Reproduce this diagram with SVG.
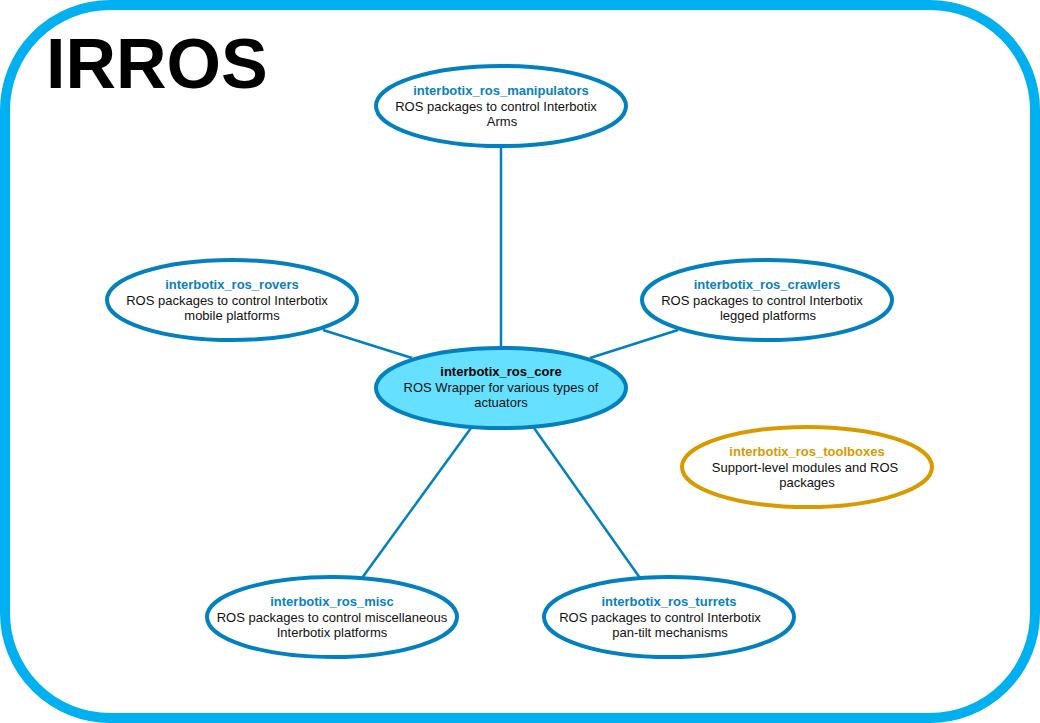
<svg xmlns="http://www.w3.org/2000/svg" width="1040" height="723" viewBox="0 0 1040 723">
<style>
text{font-family:"Liberation Sans",Arial,sans-serif;font-size:13px;text-anchor:middle;fill:#111}
.t{font-weight:bold;fill:#0a80c2}
.n{fill:#fff;stroke:#0380bf;stroke-width:4}
.c{stroke:#0380bf;stroke-width:2.5;fill:none}
</style>
<rect x="5" y="5" width="1030" height="713" rx="105" ry="105" fill="#fff" stroke="#00b0f0" stroke-width="10"/>
<text x="46" y="88" style="font-size:70px;font-weight:bold;text-anchor:start;fill:#000">IRROS</text>
<g id="connectors">
<line class="c" x1="501" y1="147" x2="501" y2="348"/>
<line class="c" x1="323" y1="330" x2="412" y2="358"/>
<line class="c" x1="678" y1="330" x2="590" y2="358"/>
<line class="c" x1="362" y1="578" x2="471" y2="428"/>
<line class="c" x1="640" y1="578" x2="534" y2="428"/>
</g>
<g id="manipulators">
<ellipse class="n" cx="501" cy="106" rx="125" ry="40"/>
<text class="t" x="501" y="95">interbotix_ros_manipulators</text>
<text x="496" y="111">ROS packages to control Interbotix</text>
<text x="502" y="126">Arms</text>
</g>
<g id="rovers">
<ellipse class="n" cx="232" cy="300" rx="125" ry="40"/>
<text class="t" x="232" y="289">interbotix_ros_rovers</text>
<text x="227" y="305">ROS packages to control Interbotix</text>
<text x="232" y="320">mobile platforms</text>
</g>
<g id="crawlers">
<ellipse class="n" cx="767" cy="300" rx="125" ry="40"/>
<text class="t" x="767" y="289">interbotix_ros_crawlers</text>
<text x="762" y="305">ROS packages to control Interbotix</text>
<text x="768" y="320">legged platforms</text>
</g>
<g id="core">
<ellipse cx="501" cy="388" rx="125" ry="40" fill="#66e0ff" stroke="#0380bf" stroke-width="4"/>
<text x="501" y="376" style="font-weight:bold;fill:#000">interbotix_ros_core</text>
<text x="501" y="392">ROS Wrapper for various types of</text>
<text x="501" y="407">actuators</text>
</g>
<g id="toolboxes">
<ellipse cx="807" cy="467" rx="125" ry="40" fill="#fff" stroke="#d99a00" stroke-width="4"/>
<text x="807" y="456" style="font-weight:bold;fill:#d99a00">interbotix_ros_toolboxes</text>
<text x="805" y="472">Support-level modules and ROS</text>
<text x="807" y="487">packages</text>
</g>
<g id="misc">
<ellipse class="n" cx="332" cy="617" rx="125" ry="40"/>
<text class="t" x="332" y="606">interbotix_ros_misc</text>
<text x="332" y="622">ROS packages to control miscellaneous</text>
<text x="332" y="637">Interbotix platforms</text>
</g>
<g id="turrets">
<ellipse class="n" cx="669" cy="617" rx="125" ry="40"/>
<text class="t" x="669" y="606">interbotix_ros_turrets</text>
<text x="660" y="622">ROS packages to control Interbotix</text>
<text x="670" y="637">pan-tilt mechanisms</text>
</g>
</svg>
